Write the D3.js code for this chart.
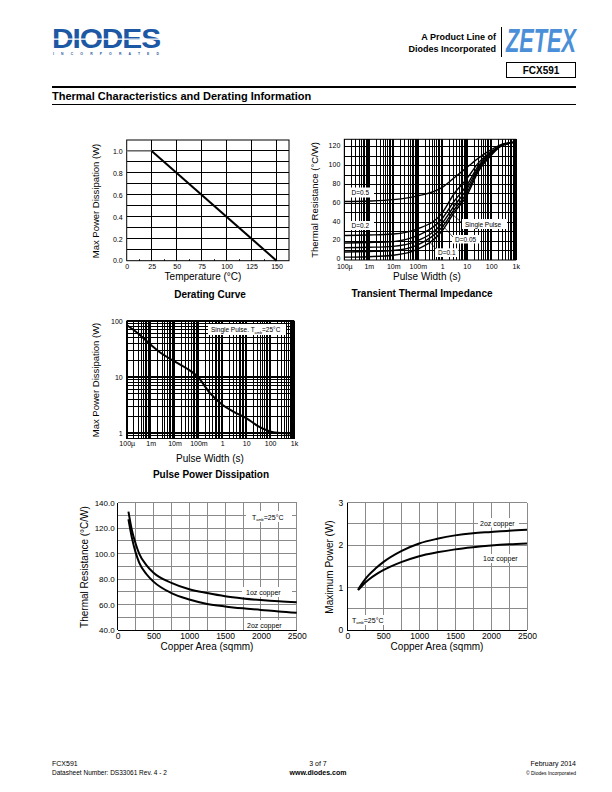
<!DOCTYPE html>
<html><head><meta charset="utf-8">
<script src="https://cdn.jsdelivr.net/npm/d3@7"></script>
<style>
body{margin:0;background:#fff}
svg{display:block}
text{font-family:"Liberation Sans",Arial,Helvetica,sans-serif}
</style>
</head><body>
<svg id="page" width="612" height="792"></svg>
<script>
// ---------------- DATA ----------------
const deratingTemp = [0, 25, 150];
const deratingPower = [1.0, 1.0, 0.0];
const deratingXTicks = [0, 25, 50, 75, 100, 125, 150];
const deratingYTicks = [0, 0.2, 0.4, 0.6, 0.8, 1.0];

const logTickValues = [1e-4, 1e-3, 1e-2, 1e-1, 1, 10, 100, 1000];
const logTickLabels = ["100µ", "1m", "10m", "100m", "1", "10", "100", "1k"];

const zthWidths = [1e-4, 1e-3, 1e-2, 1e-1, 1, 3, 10, 30, 100, 300, 1000];
const zthD05 = [62, 62.5, 64, 68, 77, 87, 98, 108, 117, 123, 125];
const zthD02 = [26, 26.5, 27.5, 33, 50, 70, 86, 103, 115, 122, 125];
const zthD01 = [18, 18.5, 19.5, 26, 44, 62, 79, 100, 114, 122, 125];
const zthD005 = [13, 13.5, 14.5, 20.5, 39, 57, 75, 98, 113, 122, 125];
const zthD002 = [8.5, 9, 10, 16, 35, 53, 71, 96, 112, 122, 125];
const zthSingle = [3, 3.5, 5, 11.5, 31, 50, 68, 94, 111, 122, 125];
const zthYTicks = [0, 20, 40, 60, 80, 100, 120];

const ppdWidths = [1e-4, 3e-4, 1e-3, 3e-3, 1e-2, 3e-2, 1e-1, 3e-1, 1, 3, 10, 30, 100, 300, 1000];
const ppdPower = [85, 60, 38, 26, 19, 14.5, 9.8, 5.2, 3.2, 2.4, 1.85, 1.35, 1.07, 1.0, 0.98];
const ppdYTicks = [1, 10, 100];

const copperArea = [150, 200, 250, 300, 400, 500, 750, 1000, 1250, 1500, 1750, 2000, 2250, 2500];
const rth1oz = [133, 118, 108, 100, 91, 85, 77, 72, 69, 66.5, 64.8, 63.5, 62.5, 61.8];
const rth2oz = [127, 112, 101, 93, 84, 78, 69, 64, 60.5, 58.5, 57, 55.8, 54.5, 53.5];
const pmax1oz = [0.94, 1.03, 1.12, 1.19, 1.31, 1.41, 1.60, 1.74, 1.83, 1.90, 1.95, 1.99, 2.02, 2.04];
const pmax2oz = [0.95, 1.08, 1.20, 1.30, 1.46, 1.60, 1.86, 2.04, 2.15, 2.23, 2.28, 2.31, 2.34, 2.36];
const areaTicks = [0, 500, 1000, 1500, 2000, 2500];
const rthTicks = [40, 60, 80, 100, 120, 140];
const pmaxTicks = [0, 1, 2, 3];

// ---------------- HELPERS ----------------
const svg = d3.select("#page");
const FONT = '"Liberation Sans",Arial,Helvetica,sans-serif';

function txt(g, x, y, s, o = {}) {
  const t = g.append("text").attr("x", x).attr("y", y).text(s)
    .attr("font-size", o.size || 10).attr("fill", o.fill || "#000")
    .attr("text-anchor", o.anchor || "start");
  if (o.bold) t.attr("font-weight", "bold");
  if (o.rotate) t.attr("transform", `rotate(-90,${x},${y})`);
  return t;
}
function vline(g, x, y0, y1, c, w) {
  g.append("line").attr("x1", x).attr("x2", x).attr("y1", y0).attr("y2", y1)
    .attr("stroke", c).attr("stroke-width", w).attr("shape-rendering", "crispEdges");
}
function hline(g, y, x0, x1, c, w) {
  g.append("line").attr("x1", x0).attr("x2", x1).attr("y1", y).attr("y2", y)
    .attr("stroke", c).attr("stroke-width", w).attr("shape-rendering", "crispEdges");
}
function logGridValues(lo, hi) {
  const out = [];
  for (let d = Math.floor(Math.log10(lo)); d <= Math.ceil(Math.log10(hi)); d++)
    for (let k = 1; k <= 9; k++) {
      const v = +(k * Math.pow(10, d)).toPrecision(6);
      if (v >= lo * 0.9999 && v <= hi * 1.0001) out.push({v, major: k === 1});
    }
  return out;
}
function styleAxis(g, size) {
  g.select(".domain").remove();
  g.selectAll(".tick line").remove();
  g.selectAll("text").attr("font-family", FONT).attr("font-size", size).attr("fill", "#000");
}
function boxLabel(g, x0, y0, x1, y1) {
  g.append("rect").attr("x", x0).attr("y", y0).attr("width", x1 - x0).attr("height", y1 - y0).attr("fill", "#fff");
}
function tamb(g, x, y, size) {
  const t = g.append("text").attr("x", x).attr("y", y).attr("font-size", size);
  t.append("tspan").text("T");
  t.append("tspan").text("amb").attr("font-size", size * 0.55).attr("dy", 1.5);
  t.append("tspan").text("=25°C").attr("dy", -1.5);
  return t;
}
function pts(xs, ys) { return xs.map((x, i) => [x, ys[i]]); }

// ---------------- HEADER ----------------
const hdr = svg.append("g");
txt(hdr, 52, 47.5, "DIODES", {size: 28, bold: true, fill: "#1c58a4"})
  .attr("textLength", 108).attr("lengthAdjust", "spacingAndGlyphs").attr("letter-spacing", -1);
hdr.append("rect").attr("x", 52).attr("y", 38.5).attr("width", 110).attr("height", 1.3).attr("fill", "#fff");
txt(hdr, 53, 55, "I N C O R P O R A T E D", {size: 3.4, bold: true, fill: "#1c58a4"})
  .attr("textLength", 106).attr("lengthAdjust", "spacing");
txt(hdr, 496, 39.5, "A Product Line of", {size: 9, bold: true, anchor: "end"});
txt(hdr, 496, 51.5, "Diodes Incorporated", {size: 9, bold: true, anchor: "end"});
vline(hdr, 501, 27, 57, "#000", 1);
txt(hdr, 506, 52, "ZETEX", {size: 33, bold: true, fill: "#4b8fd8"})
  .attr("font-style", "italic").attr("textLength", 70).attr("lengthAdjust", "spacingAndGlyphs");
hdr.append("rect").attr("x", 506.5).attr("y", 62.5).attr("width", 69).attr("height", 15)
  .attr("fill", "none").attr("stroke", "#000").attr("stroke-width", 1);
txt(hdr, 541, 74, "FCX591", {size: 10, bold: true, anchor: "middle"});
hdr.append("rect").attr("x", 52).attr("y", 86).attr("width", 524).attr("height", 2).attr("fill", "#000");
txt(hdr, 52, 100, "Thermal Characteristics and Derating Information", {size: 11, bold: true});
hline(hdr, 104, 52, 576, "#000", 1);

// ---------------- CHART 1: DERATING ----------------
{
  const g = svg.append("g");
  const L = 126.7, R = 289, T = 140, B = 260.7;
  const x = d3.scaleLinear().domain([0, 162.5]).range([L, R]);
  const y = d3.scaleLinear().domain([0, 1.1]).range([B, T]);
  deratingXTicks.slice(1).forEach(v => vline(g, x(v), T, B, "#000", 1));
  d3.range(1, 11).map(i => i / 10).forEach(v => hline(g, y(v), L, R, "#000", 1));
  g.append("rect").attr("x", L).attr("y", T).attr("width", R - L).attr("height", B - T)
    .attr("fill", "none").attr("stroke", "#000").attr("stroke-width", 1);
  d3.range(12.5, 162.5, 25).forEach(v => vline(g, x(v), B - 2, B, "#000", 0.8));
  const ax = g.append("g").attr("transform", `translate(0,${B})`)
    .call(d3.axisBottom(x).tickValues(deratingXTicks).tickFormat(d3.format("d")).tickSize(0).tickPadding(3));
  styleAxis(ax, 7);
  const ay = g.append("g").attr("transform", `translate(${L},0)`)
    .call(d3.axisLeft(y).tickValues(deratingYTicks).tickFormat(d3.format(".1f")).tickSize(0).tickPadding(4));
  styleAxis(ay, 7);
  const line = d3.line().x(d => x(d[0])).y(d => y(d[1]));
  const p = pts(deratingTemp, deratingPower);
  g.append("path").attr("d", line(p.slice(0, 2))).attr("fill", "none").attr("stroke", "#888").attr("stroke-width", 1.5);
  g.append("path").attr("d", line(p.slice(1))).attr("fill", "none").attr("stroke", "#000").attr("stroke-width", 2);
  txt(g, 98.5, 201, "Max Power Dissipation (W)", {size: 9.5, anchor: "middle", rotate: true});
  txt(g, 203, 280, "Temperature (°C)", {size: 10, anchor: "middle"});
  txt(g, 210, 298, "Derating Curve", {size: 10, bold: true, anchor: "middle"});
}

// ---------------- CHART 2: TRANSIENT THERMAL IMPEDANCE ----------------
{
  const g = svg.append("g");
  const L = 344.3, R = 515.7, T = 139.3, B = 260;
  const x = d3.scaleLog().domain([1e-4, 1e3]).range([L, R]);
  const y = d3.scaleLinear().domain([0, 128]).range([B, T]);
  logGridValues(1e-4, 1e3).forEach(d => vline(g, x(d.v), T, B, "#000", d.major ? 1.6 : 1));
  d3.range(10, 121, 10).forEach(v => hline(g, y(v), L, R, "#000", 1));
  g.append("rect").attr("x", L).attr("y", T).attr("width", R - L).attr("height", B - T)
    .attr("fill", "none").attr("stroke", "#000").attr("stroke-width", 1);
  const ax = g.append("g").attr("transform", `translate(0,${B})`)
    .call(d3.axisBottom(x).tickValues(logTickValues).tickFormat((d, i) => logTickLabels[i]).tickSize(0).tickPadding(4));
  styleAxis(ax, 7);
  const ay = g.append("g").attr("transform", `translate(${L},-1.5)`)
    .call(d3.axisLeft(y).tickValues(zthYTicks).tickFormat(d3.format("d")).tickSize(0).tickPadding(4));
  styleAxis(ay, 7);
  const line = d3.line().x(d => x(d[0])).y(d => y(d[1])).curve(d3.curveMonotoneX);
  [zthD05, zthD02, zthD01, zthD005, zthD002, zthSingle].forEach(s =>
    g.append("path").attr("d", line(pts(zthWidths, s))).attr("fill", "none").attr("stroke", "#000").attr("stroke-width", 1.4));
  // labels
  boxLabel(g, 345, 187.5, 374, 197.5); txt(g, 351.5, 195, "D=0.5", {size: 6.5});
  boxLabel(g, 345, 221, 374, 230); txt(g, 351.5, 228, "D=0.2", {size: 6.5});
  boxLabel(g, 462, 219, 507, 229); txt(g, 465, 226.5, "Single Pulse", {size: 6.5});
  boxLabel(g, 452, 235, 480, 243.5); txt(g, 455, 241.8, "D=0.05", {size: 6.5});
  boxLabel(g, 435, 248.3, 458.5, 257); txt(g, 438, 255, "D=0.1", {size: 6.5});
  g.append("line").attr("x1", 462).attr("y1", 223).attr("x2", 451).attr("y2", 213).attr("stroke", "#000").attr("stroke-width", 0.7);
  g.append("line").attr("x1", 453).attr("y1", 237).attr("x2", 443).attr("y2", 226).attr("stroke", "#000").attr("stroke-width", 0.7);
  g.append("line").attr("x1", 436).attr("y1", 249).attr("x2", 428).attr("y2", 240).attr("stroke", "#000").attr("stroke-width", 0.7);
  txt(g, 318, 200, "Thermal Resistance (°C/W)", {size: 9.5, anchor: "middle", rotate: true});
  txt(g, 427, 280, "Pulse Width (s)", {size: 10, anchor: "middle"});
  txt(g, 422, 297, "Transient Thermal Impedance", {size: 10, bold: true, anchor: "middle"});
}

// ---------------- CHART 3: PULSE POWER DISSIPATION ----------------
{
  const g = svg.append("g");
  const L = 126.7, R = 294, T = 321, B = 438.5;
  const x = d3.scaleLog().domain([1e-4, 1e3]).range([L, R]);
  const y = d3.scaleLog().domain([0.8, 100]).range([B, T]);
  logGridValues(1e-4, 1e3).forEach(d => vline(g, x(d.v), T, B, "#000", d.major ? 1.6 : 1));
  logGridValues(0.8, 100).forEach(d => hline(g, y(d.v), L, R, "#000", d.major ? 1.4 : 1));
  g.append("rect").attr("x", L).attr("y", T).attr("width", R - L).attr("height", B - T)
    .attr("fill", "none").attr("stroke", "#000").attr("stroke-width", 1);
  const ax = g.append("g").attr("transform", `translate(0,${B})`)
    .call(d3.axisBottom(x).tickValues(logTickValues).tickFormat((d, i) => logTickLabels[i]).tickSize(0).tickPadding(3));
  styleAxis(ax, 7);
  const ay = g.append("g").attr("transform", `translate(${L},0)`)
    .call(d3.axisLeft(y).tickValues(ppdYTicks).tickFormat(d3.format("d")).tickSize(0).tickPadding(4));
  styleAxis(ay, 7);
  const line = d3.line().x(d => x(d[0])).y(d => y(d[1])).curve(d3.curveMonotoneX);
  g.append("path").attr("d", line(pts(ppdWidths, ppdPower))).attr("fill", "none").attr("stroke", "#000").attr("stroke-width", 2);
  boxLabel(g, 208, 324, 286, 335);
  const t = g.append("text").attr("x", 211).attr("y", 332).attr("font-size", 6.5);
  t.append("tspan").text("Single Pulse. T");
  t.append("tspan").text("amb").attr("font-size", 3.8).attr("dy", 1.5);
  t.append("tspan").text("=25°C").attr("dy", -1.5);
  txt(g, 98.5, 380, "Max Power Dissipation (W)", {size: 9.5, anchor: "middle", rotate: true});
  txt(g, 210, 461.5, "Pulse Width (s)", {size: 10, anchor: "middle"});
  txt(g, 211, 478, "Pulse Power Dissipation", {size: 10, bold: true, anchor: "middle"});
}

// ---------------- CHART 4: THERMAL RESISTANCE vs COPPER AREA ----------------
{
  const g = svg.append("g");
  const L = 117.7, R = 296.7, T = 502.7, B = 630;
  const x = d3.scaleLinear().domain([0, 2500]).range([L, R]);
  const y = d3.scaleLinear().domain([40, 140]).range([B, T]);
  d3.range(250, 2501, 250).forEach(v => vline(g, x(v), T, B, "#8a8a8a", 1));
  d3.range(50, 141, 10).forEach(v => hline(g, y(v), L, R, "#8a8a8a", 1));
  vline(g, L, T, B, "#000", 1); hline(g, B, L, R, "#000", 1);
  const ax = g.append("g").attr("transform", `translate(0,${B})`)
    .call(d3.axisBottom(x).tickValues(areaTicks).tickFormat(d3.format("d")).tickSize(0).tickPadding(3));
  styleAxis(ax, 8.5);
  const ay = g.append("g").attr("transform", `translate(${L},0)`)
    .call(d3.axisLeft(y).tickValues(rthTicks).tickFormat(d3.format(".1f")).tickSize(0).tickPadding(3));
  styleAxis(ay, 8);
  const line = d3.line().x(d => x(d[0])).y(d => y(d[1])).curve(d3.curveMonotoneX);
  [rth1oz, rth2oz].forEach(s =>
    g.append("path").attr("d", line(pts(copperArea, s))).attr("fill", "none").attr("stroke", "#000").attr("stroke-width", 2));
  boxLabel(g, 246, 511, 292, 522); tamb(g, 252, 519.5, 7);
  boxLabel(g, 242, 587, 292, 597); txt(g, 246, 595, "1oz copper", {size: 7});
  boxLabel(g, 245, 620, 296, 629.5); txt(g, 247, 627.5, "2oz copper", {size: 7});
  txt(g, 88, 567, "Thermal Resistance (°C/W)", {size: 10, anchor: "middle", rotate: true});
  txt(g, 207, 650, "Copper Area (sqmm)", {size: 10, anchor: "middle"});
}

// ---------------- CHART 5: MAXIMUM POWER vs COPPER AREA ----------------
{
  const g = svg.append("g");
  const L = 347.3, R = 527, T = 502.7, B = 630;
  const x = d3.scaleLinear().domain([0, 2500]).range([L, R]);
  const y = d3.scaleLinear().domain([0, 3]).range([B, T]);
  d3.range(250, 2501, 250).forEach(v => vline(g, x(v), T, B, "#8a8a8a", 1));
  d3.range(0.5, 3.01, 0.5).forEach(v => hline(g, y(v), L, R, "#8a8a8a", 1));
  vline(g, L, T, B, "#000", 1); hline(g, B, L, R, "#000", 1);
  const ax = g.append("g").attr("transform", `translate(0,${B})`)
    .call(d3.axisBottom(x).tickValues(areaTicks).tickFormat(d3.format("d")).tickSize(0).tickPadding(3));
  styleAxis(ax, 8.5);
  const ay = g.append("g").attr("transform", `translate(${L},0)`)
    .call(d3.axisLeft(y).tickValues(pmaxTicks).tickFormat(d3.format("d")).tickSize(0).tickPadding(4));
  styleAxis(ay, 8.5);
  const line = d3.line().x(d => x(d[0])).y(d => y(d[1])).curve(d3.curveMonotoneX);
  [pmax1oz, pmax2oz].forEach(s =>
    g.append("path").attr("d", line(pts(copperArea, s))).attr("fill", "none").attr("stroke", "#000").attr("stroke-width", 2));
  boxLabel(g, 478, 518, 519, 527.5); txt(g, 480, 525.5, "2oz copper", {size: 7});
  boxLabel(g, 481, 554, 524, 563); txt(g, 483, 561, "1oz copper", {size: 7});
  boxLabel(g, 350, 615, 393, 625); tamb(g, 352, 622.5, 7);
  txt(g, 333, 567, "Maximum Power (W)", {size: 10, anchor: "middle", rotate: true});
  txt(g, 437, 650, "Copper Area (sqmm)", {size: 10, anchor: "middle"});
}

// ---------------- FOOTER ----------------
const ft = svg.append("g");
txt(ft, 52, 766, "FCX591", {size: 7});
txt(ft, 52, 775, "Datasheet Number: DS33061 Rev. 4 - 2", {size: 6.5});
txt(ft, 318, 766, "3 of 7", {size: 7, anchor: "middle"});
txt(ft, 318, 775, "www.diodes.com", {size: 7, bold: true, anchor: "middle"});
txt(ft, 576, 766, "February 2014", {size: 7, anchor: "end"});
txt(ft, 576, 775, "© Diodes Incorporated", {size: 5, anchor: "end"});
</script>
</body></html>
